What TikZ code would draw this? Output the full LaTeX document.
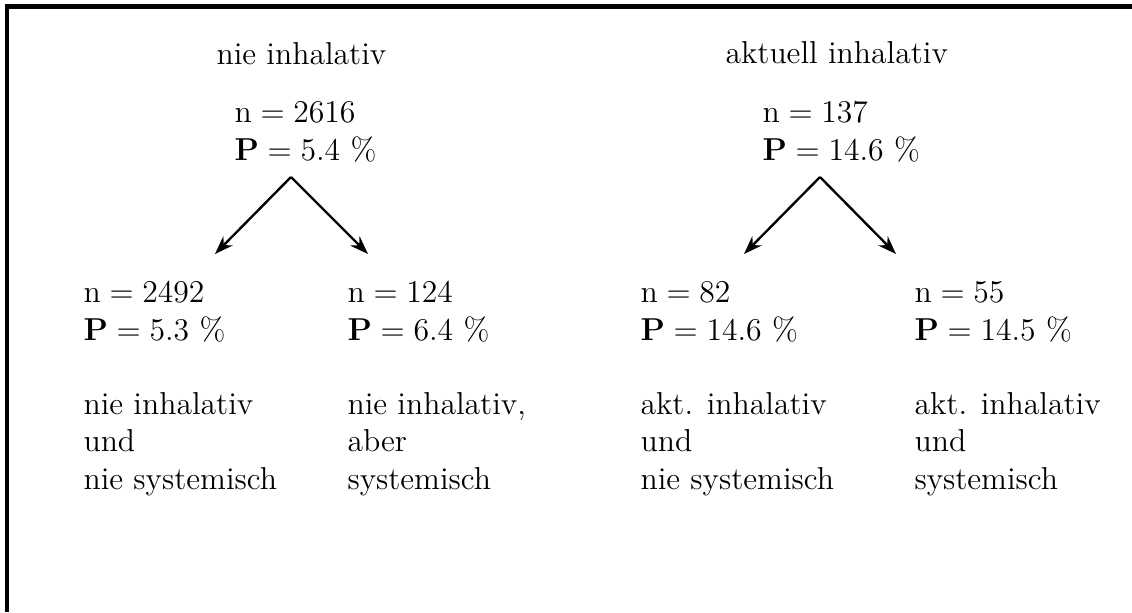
\documentclass[tikz,border=0pt]{standalone}
\usepackage{amsmath}
\usetikzlibrary{positioning, arrows.meta}
\tikzset{
    txt/.style={anchor=base west, inner sep=0pt, align=left, font=\fontsize{12}{14.1}\selectfont},
    grouplbl/.style={txt},
    statbox/.style={txt},
    descbox/.style={txt},
    arr/.style={-{Stealth[length=7pt, width=5pt]}, line width=0.9pt},
    frameline/.style={line width=1.6pt}
}

\begin{document}
\begin{tikzpicture}[x=0.3788pt, y=-0.3788pt]
        \useasboundingbox (0,0) rectangle (1132,612);

        % Frame (left and top edge)
        \draw[frameline] (7,612) -- (7,6.5) -- (1132,6.5);

        % Group: nie inhalativ (base = last line)
        \node[grouplbl] (titleL) at (216,64) {nie inhalativ};
        \node[statbox] (rootL) at (234,160) {$\mathrm{n} = 2616$\\$\mathbf{P} = 5.4$ \%};

        % Group: aktuell inhalativ
        \node[grouplbl] (titleR) at (725,63) {aktuell inhalativ};
        \node[statbox] (rootR) at (762,160) {$\mathrm{n} = 137$\\$\mathbf{P} = 14.6$ \%};

        % Leaves
        \node[statbox] (leafLL) at (83,340) {$\mathrm{n} = 2492$\\$\mathbf{P} = 5.3$ \%};
        \node[statbox] (leafLR) at (347,340) {$\mathrm{n} = 124$\\$\mathbf{P} = 6.4$ \%};
        \node[statbox] (leafRL) at (640,340) {$\mathrm{n} = 82$\\$\mathbf{P} = 14.6$ \%};
        \node[statbox] (leafRR) at (914,340) {$\mathrm{n} = 55$\\$\mathbf{P} = 14.5$ \%};

        \node[descbox] (descLL) at (83,489) {nie inhalativ\\und\\nie systemisch};
        \node[descbox] (descLR) at (347,489) {nie inhalativ,\\aber\\systemisch};
        \node[descbox] (descRL) at (640,489) {akt. inhalativ\\und\\nie systemisch};
        \node[descbox] (descRR) at (914,489) {akt. inhalativ\\und\\systemisch};

        % Branch points
        \coordinate (apexL) at (291,177);
        \coordinate (tipLL) at (215,254);
        \coordinate (tipLR) at (368,254);
        \coordinate (apexR) at (820,177);
        \coordinate (tipRL) at (744,254);
        \coordinate (tipRR) at (896,254);

        \draw[arr] (apexL) -- (tipLL);
        \draw[arr] (apexL) -- (tipLR);
        \draw[arr] (apexR) -- (tipRL);
        \draw[arr] (apexR) -- (tipRR);
\end{tikzpicture}
\end{document}
